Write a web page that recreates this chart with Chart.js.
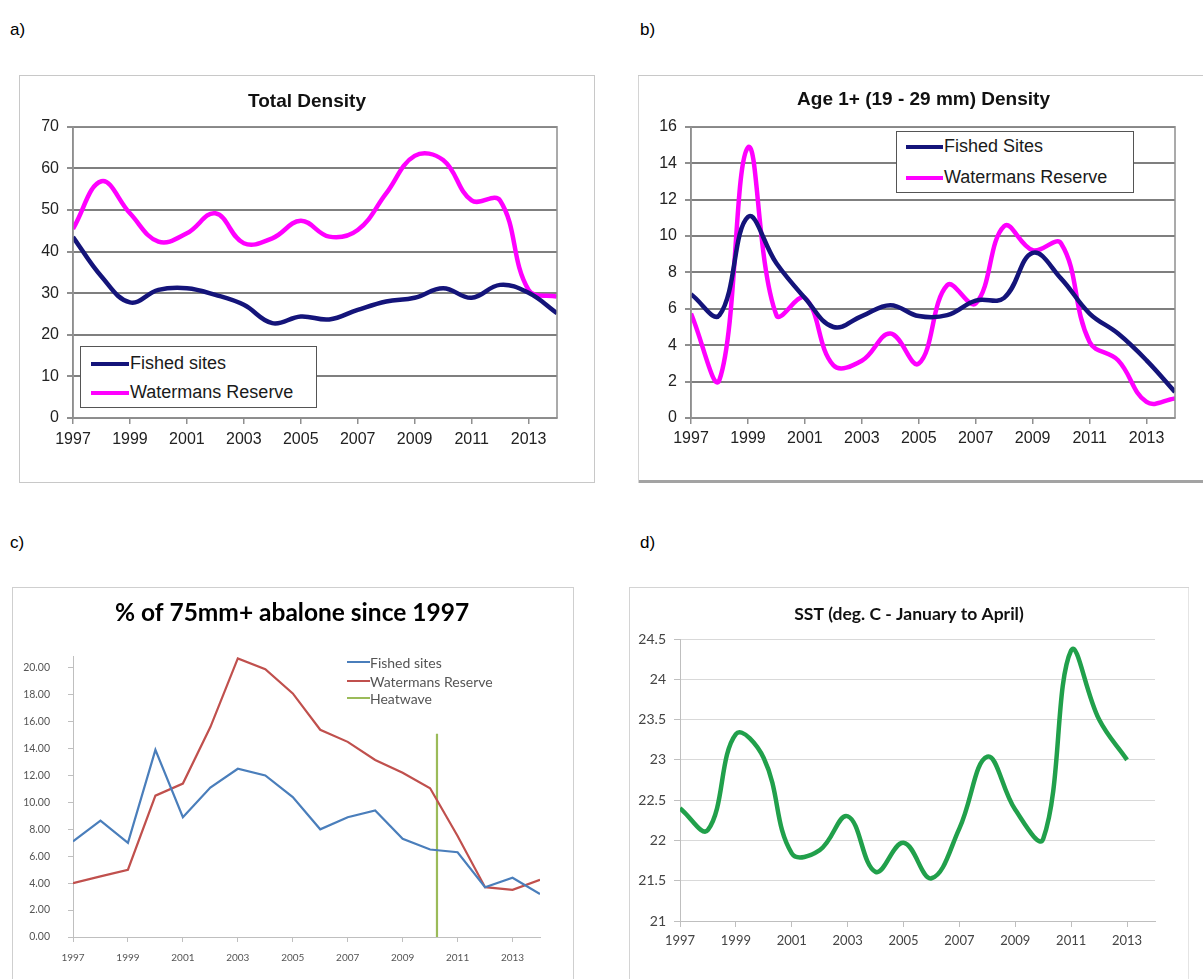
<!DOCTYPE html>
<html>
<head>
<meta charset="utf-8">
<title>Abalone density, size and SST</title>
<script src="https://cdn.jsdelivr.net/npm/chart.js@4.4.1/dist/chart.umd.min.js"></script>
<style>
body { margin:0; background:#fff; width:1203px; height:979px; position:relative; overflow:hidden; font-family:"Liberation Sans", Arial, sans-serif; }
.tag { position:absolute; font-size:17px; color:#000; line-height:20px; }
.box { position:absolute; background:#fff; }
.box canvas { position:absolute; left:0; top:0; }
.lgd { position:absolute; background:#fff; box-sizing:border-box; }
.lgd .row { position:absolute; white-space:nowrap; }
.lgd .swatch { position:absolute; }
</style>
</head>
<body>
<div class="tag" style="left:10px;top:20px">a)</div>
<div class="tag" style="left:640px;top:20px">b)</div>
<div class="tag" style="left:10px;top:533px">c)</div>
<div class="tag" style="left:640px;top:533px">d)</div>

<div class="box" id="boxA" style="left:19px;top:75px;width:576px;height:408px;box-shadow:inset 0 0 0 1px #c8c8c8"><canvas id="chartA" width="576" height="408"></canvas></div>
<div class="box" id="boxB" style="left:638px;top:75px;width:565px;height:408px;box-shadow:inset 0 1px 0 #c8c8c8, inset 1px 0 0 #d4d4d4, inset 0 -3px 0 #a3a3a3"><canvas id="chartB" width="565" height="408"></canvas></div>
<div class="box" id="boxC" style="left:12px;top:587px;width:562px;height:392px;box-shadow:inset 0 1px 0 #cfcfcf, inset 1px 0 0 #cfcfcf, inset -1px 0 0 #cfcfcf"><canvas id="chartC" width="562" height="392"></canvas></div>
<div class="box" id="boxD" style="left:629px;top:587px;width:560px;height:392px;box-shadow:inset 0 1px 0 #d4d4d4, inset 1px 0 0 #d4d4d4, inset -1px 0 0 #e4e4e4"><canvas id="chartD" width="560" height="392"></canvas></div>

<script>
// survey years, shared by a), b) and c)
const YEARS = [1997,1998,1999,2000,2001,2002,2003,2004,2005,2006,2007,2008,2009,2010,2011,2012,2013,2014];
const X_TICKS = [1997,1999,2001,2003,2005,2007,2009,2011,2013];

// a) Total Density
const A_FISHED  = [43.5,34.0,27.8,30.8,31.2,29.6,27.2,22.8,24.4,23.7,26.0,28.0,28.9,31.2,28.9,32.0,30.1,25.2];
const A_RESERVE = [45.5,56.9,49.2,42.4,44.4,49.2,42.0,43.2,47.4,43.6,45.2,54.0,63.0,62.0,52.3,52.3,30.8,29.2];
const A_Y_TICKS = [0,10,20,30,40,50,60,70];

// b) Age 1+ (19 - 29 mm) Density
const B_FISHED  = [6.8,5.65,11.05,8.5,6.6,5.0,5.6,6.2,5.6,5.65,6.45,6.6,9.07,7.66,5.74,4.64,3.17,1.43];
const B_RESERVE = [5.74,2.1,14.86,5.65,6.6,2.9,3.15,4.64,2.99,7.3,6.29,10.54,9.22,9.59,4.18,3.17,0.88,1.07];
const B_Y_TICKS = [0,2,4,6,8,10,12,14,16];

// c) % of 75mm+ abalone
const C_FISHED  = [7.1,8.65,7.0,13.9,8.9,11.1,12.5,12.0,10.4,8.0,8.9,9.4,7.3,6.5,6.3,3.7,4.4,3.2];
const C_RESERVE = [4.0,4.5,5.0,10.5,11.4,15.6,20.7,19.9,18.1,15.4,14.5,13.15,12.2,11.05,7.5,3.7,3.5,4.25];
const HEAT_YEAR = [2010.25,2010.25];
const HEAT_PCT  = [0,15.1];
const C_Y_TICKS = [0,2,4,6,8,10,12,14,16,18,20];

// d) SST, January to April
const SST_YEARS = [1997,1998,1999,2000,2001,2002,2003,2004,2005,2006,2007,2008,2009,2010,2011,2012,2013];
const D_SST     = [22.4,22.13,23.32,23.02,21.84,21.88,22.3,21.61,21.97,21.53,22.15,23.04,22.38,22.02,24.36,23.5,23.0];
const D_Y_TICKS = [21,21.5,22,22.5,23,23.5,24,24.5];

var ARIAL = "'Liberation Sans', Arial, sans-serif";
var LATO = "Lato, 'Open Sans', sans-serif";

// draws the grey box round the plot area (Excel style)
var plotFrame = {
	id: 'plotFrame',
	afterDraw: function(chart, args, opts) {
		if (!opts.color) return;
		var a = chart.chartArea, c = chart.ctx;
		c.save();
		c.strokeStyle = opts.color;
		c.lineWidth = opts.width || 1;
		c.strokeRect(a.left, a.top, a.right - a.left, a.bottom - a.top);
		c.restore();
	}
};

// Excel centres the title a bit right of the canvas middle, move the title box over
var titleNudge = {
	id: 'titleNudge',
	afterLayout: function(chart, args, opts) {
		var t = chart.titleBlock;
		if (t && opts.dx) { t.left += opts.dx; t.right += opts.dx; }
	}
};

function pairUp(xs, ys) {
	return xs.map(function(x, i) { return { x: x, y: ys[i] }; });
}

function lineSet(label, xs, ys, color, width, tension) {
	return {
		label: label,
		data: pairUp(xs, ys),
		borderColor: color,
		backgroundColor: color,
		borderWidth: width,
		pointRadius: 0,
		tension: tension,
		fill: false
	};
}

function fixedTicks(list) {
	return function(axis) { axis.ticks = list.map(function(v) { return { value: v }; }); };
}

// x axis shared shape, sizes differ per panel
function xAxis(o) {
	return {
		type: 'linear', min: 1997, max: 2014,
		afterBuildTicks: fixedTicks(X_TICKS),
		afterFit: function(ax) { ax.height = o.height; },
		grid: { drawOnChartArea: false, drawTicks: true, tickLength: o.tick, tickColor: o.color, color: o.color, lineWidth: o.lw },
		border: { display: true, color: o.color, width: o.lw },
		ticks: { padding: o.pad, color: o.text, maxRotation: 0, font: { family: o.family, size: o.size }, callback: function(v) { return String(v); } }
	};
}

function yAxis(o) {
	return {
		min: o.min, max: o.max,
		afterBuildTicks: fixedTicks(o.list),
		afterFit: function(ax) { ax.width = o.width; },
		grid: { display: true, drawOnChartArea: o.gridOn, color: o.gridColor, lineWidth: o.gridLw, tickLength: o.tick, tickColor: o.tickColor },
		border: { display: true, color: o.axisColor, width: o.axisLw },
		ticks: { padding: o.pad, color: o.text, font: { family: o.family, size: o.size }, callback: o.fmt || function(v) { return String(v); } }
	};
}

// simple html legend built from the chart datasets
function makeLegend(boxId, chart, s) {
	var host = document.getElementById(boxId);
	var lg = document.createElement('div');
	lg.className = 'lgd';
	lg.style.left = s.left + 'px'; lg.style.top = s.top + 'px';
	lg.style.width = s.width + 'px'; lg.style.height = s.height + 'px';
	if (s.border) lg.style.border = s.border; else lg.style.background = 'transparent';
	chart.data.datasets.forEach(function(ds, i) {
		var sw = document.createElement('div');
		sw.className = 'swatch';
		sw.style.left = s.swX + 'px';
		sw.style.width = s.swW + 'px';
		sw.style.top = (s.rows[i] - s.lw / 2) + 'px';
		sw.style.height = s.lw + 'px';
		sw.style.background = ds.borderColor;
		lg.appendChild(sw);
		var tx = document.createElement('div');
		tx.className = 'row';
		tx.textContent = ds.label;
		tx.style.left = s.textX + 'px';
		tx.style.top = (s.rows[i] - s.size * 0.6) + 'px';
		tx.style.lineHeight = (s.size * 1.2) + 'px';
		tx.style.font = s.size + 'px ' + s.family;
		tx.style.color = s.color;
		lg.appendChild(tx);
	});
	host.appendChild(lg);
}

window.onload = function() {
	Chart.defaults.animation = false;
	Chart.defaults.responsive = false;
	Chart.defaults.devicePixelRatio = 1;
	drawTotal();
	drawAge();
	drawPct();
	drawSst();
}; //end window.onload

function drawTotal() {
	var ctx = document.getElementById('chartA').getContext('2d');
	var chart = new Chart(ctx, {
		type: 'line',
		data: { datasets: [
			lineSet('Fished sites', YEARS, A_FISHED, '#14147a', 4.5, 0.4),
			lineSet('Watermans Reserve', YEARS, A_RESERVE, '#ff00ff', 4.5, 0.4)
		] },
		options: {
			layout: { padding: { left: 0, right: 38, top: 0, bottom: 0 } },
			plugins: {
				legend: { display: false }, tooltip: { enabled: false },
				title: { display: true, text: 'Total Density', color: '#111', font: { family: ARIAL, size: 19, weight: 'bold' }, padding: { top: 15, bottom: 14 } },
				titleNudge: { dx: 19 },
				plotFrame: { color: '#8f8f8f', width: 1.5 }
			},
			scales: {
				x: xAxis({ height: 65, tick: 6, pad: 6, color: '#8f8f8f', lw: 1.5, text: '#222', family: ARIAL, size: 16 }),
				y: yAxis({ min: 0, max: 70, list: A_Y_TICKS, width: 54, gridOn: true, gridColor: '#7f7f7f', gridLw: 2, tick: 6, tickColor: '#8f8f8f', axisColor: '#8f8f8f', axisLw: 1.5, pad: 8, text: '#222', family: ARIAL, size: 16 })
			}
		},
		plugins: [plotFrame, titleNudge]
	});
	makeLegend('boxA', chart, { left: 61, top: 271, width: 237, height: 62, border: '1.5px solid #555', rows: [17, 46], swX: 10, swW: 38, lw: 4.5, textX: 49, size: 18, family: ARIAL, color: '#1a1a1a' });
} //end drawTotal

function drawAge() {
	var ctx = document.getElementById('chartB').getContext('2d');
	var chart = new Chart(ctx, {
		type: 'line',
		data: { datasets: [
			lineSet('Fished Sites', YEARS, B_FISHED, '#14147a', 4.5, 0.4),
			lineSet('Watermans Reserve', YEARS, B_RESERVE, '#ff00ff', 4.5, 0.4)
		] },
		options: {
			layout: { padding: { left: 0, right: 28, top: 0, bottom: 0 } },
			plugins: {
				legend: { display: false }, tooltip: { enabled: false },
				title: { display: true, text: 'Age 1+ (19 - 29 mm) Density', color: '#111', font: { family: ARIAL, size: 19, weight: 'bold' }, padding: { top: 13, bottom: 16 } },
				titleNudge: { dx: 17 },
				plotFrame: { color: '#8f8f8f', width: 1.5 }
			},
			scales: {
				x: xAxis({ height: 65, tick: 6, pad: 5, color: '#8f8f8f', lw: 1.5, text: '#222', family: ARIAL, size: 16 }),
				y: yAxis({ min: 0, max: 16, list: B_Y_TICKS, width: 53, gridOn: true, gridColor: '#7f7f7f', gridLw: 2, tick: 6, tickColor: '#8f8f8f', axisColor: '#8f8f8f', axisLw: 1.5, pad: 8, text: '#222', family: ARIAL, size: 16 })
			}
		},
		plugins: [plotFrame, titleNudge]
	});
	makeLegend('boxB', chart, { left: 258, top: 56, width: 238, height: 62, border: '1.5px solid #555', rows: [15, 46], swX: 9, swW: 37, lw: 4.5, textX: 47, size: 18, family: ARIAL, color: '#1a1a1a' });
} //end drawAge

function drawPct() {
	var ctx = document.getElementById('chartC').getContext('2d');
	var chart = new Chart(ctx, {
		type: 'line',
		data: { datasets: [
			lineSet('Fished sites', YEARS, C_FISHED, '#4a7ebb', 2.2, 0),
			lineSet('Watermans Reserve', YEARS, C_RESERVE, '#c0504d', 2.2, 0),
			lineSet('Heatwave', HEAT_YEAR, HEAT_PCT, '#9bbb59', 2.2, 0)
		] },
		options: {
			layout: { padding: { left: 0, right: 34, top: 0, bottom: 0 } },
			plugins: {
				legend: { display: false }, tooltip: { enabled: false },
				title: { display: true, text: '% of 75mm+ abalone since 1997', color: '#000', font: { family: LATO, size: 24.5, weight: 'bold' }, padding: { top: 11, bottom: 29 } },
				titleNudge: { dx: 16 },
				plotFrame: { color: null }
			},
			scales: {
				x: xAxis({ height: 42, tick: 5, pad: 10, color: '#bfbfbf', lw: 1, text: '#555', family: LATO, size: 10 }),
				y: yAxis({ min: 0, max: 20.85, list: C_Y_TICKS, width: 61, gridOn: false, gridColor: '#bfbfbf', gridLw: 1, tick: 5, tickColor: '#bfbfbf', axisColor: '#bfbfbf', axisLw: 1, pad: 18, text: '#555', family: LATO, size: 10.5, fmt: function(v) { return v.toFixed(2); } })
			}
		},
		plugins: [plotFrame, titleNudge]
	});
	makeLegend('boxC', chart, { left: 0, top: 0, width: 1, height: 1, border: null, rows: [75, 94, 111], swX: 335, swW: 23, lw: 2.2, textX: 358, size: 14, family: LATO, color: '#555' });
} //end drawPct

function drawSst() {
	var ctx = document.getElementById('chartD').getContext('2d');
	new Chart(ctx, {
		type: 'line',
		data: { datasets: [
			lineSet('SST', SST_YEARS, D_SST, '#21a04b', 4.5, 0.4)
		] },
		options: {
			layout: { padding: { left: 0, right: 34, top: 0, bottom: 0 } },
			plugins: {
				legend: { display: false }, tooltip: { enabled: false },
				title: { display: true, text: 'SST (deg. C - January to April)', color: '#111', font: { family: LATO, size: 17.5, weight: 'bold' }, padding: { top: 17, bottom: 14 } },
				titleNudge: { dx: 17 },
				plotFrame: { color: null }
			},
			scales: {
				x: xAxis({ height: 58, tick: 6, pad: 6, color: '#bfbfbf', lw: 1, text: '#444', family: LATO, size: 13 }),
				y: yAxis({ min: 21, max: 24.5, list: D_Y_TICKS, width: 51, gridOn: true, gridColor: '#d9d9d9', gridLw: 1, tick: 6, tickColor: '#bfbfbf', axisColor: '#bfbfbf', axisLw: 1, pad: 8, text: '#444', family: LATO, size: 14 })
			}
		},
		plugins: [plotFrame, titleNudge]
	});
} //end drawSst
</script>
</body>
</html>
